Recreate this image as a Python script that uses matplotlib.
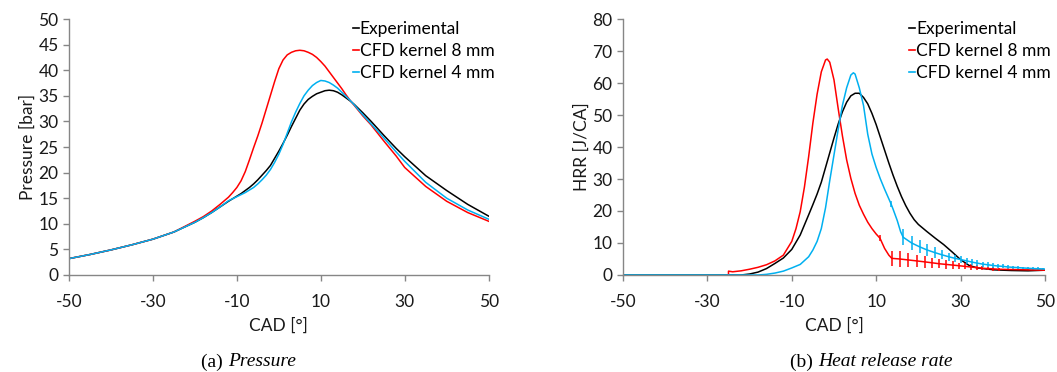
import numpy as np
import matplotlib.pyplot as plt
from matplotlib.lines import Line2D

plt.rcParams['font.family'] = ['Lato', 'DejaVu Sans']
plt.rcParams['axes.unicode_minus'] = False

# ---- pressure data (panel a)
cad_p = [-50, -45, -40, -35, -30, -25, -20, -18, -16, -14, -12, -11, -10, -9, -8, -7, -6, -5, -4, -3, -2, -1,
         0, 1, 2, 3, 4, 5, 6, 7, 8, 9, 10, 11, 12, 13, 14, 15, 16, 17, 18, 20, 22, 25, 28, 30, 35, 40, 45, 50]
p_exp = [3.2, 4.0, 4.9, 5.9, 7.0, 8.4, 10.3, 11.2, 12.2, 13.3, 14.4, 14.9, 15.4, 15.9, 16.5, 17.1, 17.8, 18.6,
         19.5, 20.4, 21.4, 22.8, 24.2, 25.7, 27.3, 29.0, 30.6, 32.2, 33.4, 34.3, 34.9, 35.4, 35.7, 36.0,
         36.1, 36.0, 35.7, 35.2, 34.6, 34.0, 33.3, 31.7, 30.0, 27.3, 24.7, 23.1, 19.4, 16.5, 13.8, 11.5]
p_8mm = [3.2, 4.0, 4.9, 5.9, 7.0, 8.4, 10.5, 11.4, 12.5, 13.8, 15.2, 16.1, 17.1, 18.4, 20.2, 22.5, 24.9,
         27.2, 29.7, 32.4, 35.1, 37.8, 40.3, 42.0, 43.0, 43.5, 43.8, 43.9, 43.8, 43.5, 43.1, 42.5, 41.7,
         40.8, 39.7, 38.6, 37.5, 36.4, 35.2, 34.1, 33.1, 31.1, 29.3, 26.2, 23.2, 21.0, 17.3, 14.4, 12.2, 10.5]
p_4mm = [3.2, 4.0, 4.9, 5.9, 7.0, 8.4, 10.3, 11.2, 12.2, 13.3, 14.5, 14.9, 15.3, 15.7, 16.1, 16.6, 17.1, 17.8,
         18.6, 19.5, 20.6, 22.0, 23.6, 25.5, 27.7, 29.9, 31.8, 33.5, 35.0, 36.1, 37.0, 37.6, 38.0, 37.9,
         37.6, 37.1, 36.5, 35.7, 34.9, 34.1, 33.2, 31.3, 29.5, 26.8, 24.0, 22.2, 18.1, 15.0, 12.7, 10.9]

# ---- heat release rate data (panel b)
cad_h_exp = [-50, -30, -22, -20, -18, -16, -14, -12, -10, -8, -6, -5, -4, -3, -2, -1, 0, 1, 2, 3, 4, 5, 6, 7,
             8, 9, 10, 11, 12, 13, 14, 15, 16, 17, 18, 19, 20, 22, 24, 26, 28, 30, 32, 34, 38, 42, 46, 50]
h_exp = [0, 0, 0, 0.3, 0.9, 2.0, 3.6, 5.3, 8.0, 12.5, 18.8, 22.0, 25.3, 29.0, 33.6, 38.2, 42.8, 47.2, 51.0,
         54.0, 56.0, 56.8, 56.8, 55.5, 53.5, 50.5, 47.0, 43.0, 39.0, 35.0, 31.2, 27.7, 24.5, 21.7, 19.3,
         17.3, 15.8, 13.6, 11.5, 9.5, 7.2, 4.8, 3.0, 2.2, 1.6, 1.4, 1.3, 1.5]

cad_h_8mm = [-25, -25, -24, -22, -20, -18, -16, -14, -12, -10, -9, -8, -7, -6, -5, -4, -3, -2, -1.6, -1,
             0, 1, 2, 3, 4, 5, 6, 7, 8, 9, 10, 10.9, 12, 13, 13.7, 15.6, 17.6, 19.6, 21.5, 23.3, 25.0,
             26.6, 28.1, 29.6, 31.0, 32.4, 33.8, 35.1, 36.4, 37.7, 39.0, 42, 46, 50]
h_8mm = [0, 1.2, 1.0, 1.3, 1.8, 2.4, 3.2, 4.4, 6.2, 10.5, 14.5, 19.8, 27.5, 37.0, 47.5, 56.5, 63.5, 67.2,
         67.5, 66.5, 61.0, 52.0, 43.5, 36.0, 30.2, 25.5, 21.8, 19.0, 16.5, 14.5, 12.8, 11.5, 8.3, 6.2, 5.2,
         5.0, 4.7, 4.4, 4.1, 3.8, 3.5, 3.3, 3.1, 2.9, 2.7, 2.5, 2.3, 2.1, 2.0, 1.9, 1.8, 1.7, 1.6, 1.5]
e_8mm = [0, 0, 0, 0, 0, 0, 0, 0, 0, 0, 0, 0, 0, 0, 0, 0, 0, 0, 0, 0,
         0, 0, 0, 0, 0, 0, 0, 0, 0, 0, 0, 0.9, 0, 0, 2.3, 2.5, 2.2, 2.0, 1.8, 1.6, 1.4,
         1.3, 1.2, 1.0, 0.9, 0.8, 0.7, 0.6, 0.5, 0.5, 0.4, 0, 0, 0]

cad_h_4mm = [-50, -30, -18, -16, -14, -12, -10, -8, -6, -5, -4, -3, -2, -1, 0, 1, 2, 3, 4, 4.6, 5, 6, 7, 8,
             9, 10, 11, 12, 13, 13.5, 14, 15, 15.8, 16.4, 18.4, 20.3, 22.1, 23.9, 25.6, 27.2, 28.7, 30.1,
             31.5, 32.8, 34.0, 35.2, 36.4, 37.6, 38.8, 40.0, 41.2, 42.4, 43.6, 44.8, 46.0, 47.2, 48.4,
             49.6, 50]
h_4mm = [0, 0, 0, 0.2, 0.6, 1.2, 2.2, 3.3, 5.7, 7.8, 10.5, 14.5, 21.0, 29.5, 37.5, 45.5, 53.0, 58.5, 62.5,
         63.2, 62.8, 58.5, 53.0, 44.0, 37.8, 33.6, 30.0, 26.8, 23.8, 22.3, 20.6, 17.0, 13.5, 11.8, 10.0,
         8.8, 7.8, 7.0, 6.3, 5.7, 5.2, 4.8, 4.4, 4.0, 3.7, 3.4, 3.2, 3.0, 2.8, 2.7, 2.5, 2.4, 2.3, 2.2,
         2.1, 2.0, 1.95, 1.9, 1.85]
e_4mm = [0, 0, 0, 0, 0, 0, 0, 0, 0, 0, 0, 0, 0, 0, 0, 0, 0, 0, 0, 0, 0, 0, 0, 0,
         0, 0, 0, 0, 0, 0.9, 0, 0, 0, 2.5, 2.3, 2.0, 1.8, 1.6, 1.4, 1.3, 1.2, 1.1,
         1.0, 0.9, 0.85, 0.8, 0.75, 0.7, 0.65, 0.6, 0.55, 0.5, 0.5, 0.45, 0.45, 0.4, 0.4,
         0.35, 0]

labels = ['Experimental', 'CFD kernel 8 mm', 'CFD kernel 4 mm']
colors = ['#000000', '#FF0000', '#00B0F0']
xticks = [-50, -30, -10, 10, 30, 50]

fig = plt.figure(figsize=(10.57, 3.72), dpi=100)
ax1 = fig.add_axes([0.0653, 0.2608, 0.397, 0.688])
ax2 = fig.add_axes([0.5894, 0.2608, 0.3992, 0.688])

lw = 1.1
ax1.plot(cad_p, p_exp, color=colors[0], lw=lw)
ax1.plot(cad_p, p_8mm, color=colors[1], lw=lw)
ax1.plot(cad_p, p_4mm, color=colors[2], lw=lw)

ax2.plot(cad_h_exp, h_exp, color=colors[0], lw=lw)
ax2.errorbar(cad_h_8mm, h_8mm, yerr=e_8mm, color=colors[1], lw=lw, elinewidth=lw, capsize=0)
ax2.errorbar(cad_h_4mm, h_4mm, yerr=e_4mm, color=colors[2], lw=lw, elinewidth=lw, capsize=0)


def style(ax, ymax, ystep, ylabel):
    ax.set_xlim(-50, 50)
    ax.set_ylim(0, ymax)
    ax.set_xticks(xticks)
    ax.set_yticks(np.arange(0, ymax + 1, ystep))
    for s in ['top', 'right']:
        ax.spines[s].set_visible(False)
    for s in ['left', 'bottom']:
        ax.spines[s].set_color('#868686')
        ax.spines[s].set_linewidth(1.0)
    ax.tick_params(axis='both', colors='#868686', labelcolor='#1a1a1a', labelsize=12.5,
                   length=4, width=1.0, direction='out')
    ax.tick_params(axis='x', pad=10)
    ax.set_xlabel('CAD [°]', fontsize=12.5, color='#1a1a1a', labelpad=5)
    ax.set_ylabel(ylabel, fontsize=12.5, color='#1a1a1a', labelpad=2)
    handles = [Line2D([], [], color=c, lw=1.2) for c in colors]
    ax.legend(handles, labels, loc='upper right', bbox_to_anchor=(1.03, 1.02), frameon=False,
              fontsize=12.5, handlelength=0.35, handletextpad=0.05, labelspacing=0.35,
              borderaxespad=0)


style(ax1, 50, 5, 'Pressure [bar]')
style(ax2, 80, 10, 'HRR [J/CA]')

# sub-captions
cap = dict(fontsize=14, family='Liberation Serif', va='center')
yc = 1 - 362 / 372
fig.text(228 / 1057, yc, '(a) ', ha='right', **cap)
fig.text(228 / 1057, yc, 'Pressure', ha='left', style='italic', **cap)
fig.text(818 / 1057, yc, '(b) ', ha='right', **cap)
fig.text(818 / 1057, yc, 'Heat release rate', ha='left', style='italic', **cap)

fig.savefig('out.png', dpi=100)
